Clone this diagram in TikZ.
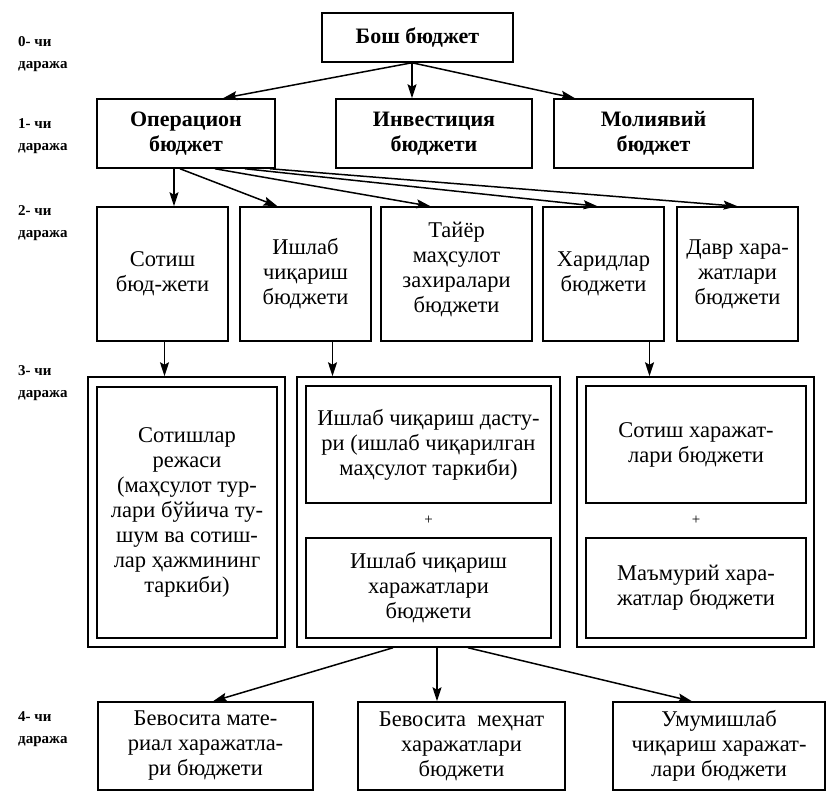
\documentclass[tikz,border=0pt]{standalone}
\usepackage{fontspec}
\setmainfont{Liberation Serif}
\usetikzlibrary{arrows.meta}
\usetikzlibrary{calc}

\begin{document}
\begin{tikzpicture}[x=1pt, y=-1pt,
        box/.style={draw, line width=1.5pt, align=center, inner sep=0pt,
                    font=\fontsize{22.5}{25}\selectfont},
        bbox/.style={box, font=\fontsize{22}{25}\selectfont\bfseries},
        lvl/.style={anchor=west, align=left, inner sep=0pt,
                    font=\fontsize{15}{22}\selectfont\bfseries},
        arr/.style={-{Stealth[length=14pt, width=9pt, inset=2.5pt]}, line width=1.5pt}]
            % Frame to ensure alignment:
            \useasboundingbox (0, 0) rectangle (829, 793);
            % Level labels
            \node[lvl] (lv0) at ( 18.0,  54.0) {0- чи\\даража};
            \node[lvl] (lv1) at ( 18.0, 136.0) {1- чи\\даража};
            \node[lvl] (lv2) at ( 18.0, 223.0) {2- чи\\даража};
            \node[lvl] (lv3) at ( 18.0, 383.0) {3- чи\\даража};
            \node[lvl] (lv4) at ( 18.0, 729.0) {4- чи\\даража};
            % Level 0
            \node[bbox, minimum width=191pt, minimum height=49pt]  (bosh)   at (417.5,  37.5) {Бош бюджет};
            % Level 1
            \node[bbox, minimum width=178pt, minimum height=69pt]  (oper)   at (186.0, 133.5) {Операцион\\бюджет};
            \node[bbox, minimum width=196pt, minimum height=69pt]  (invest) at (434.0, 133.5) {Инвестиция\\бюджети};
            \node[bbox, minimum width=199pt, minimum height=69pt]  (moliya) at (653.5, 133.5) {Молиявий\\бюджет};
            % Level 2
            \node[box,  minimum width=131pt, minimum height=134pt] (sotish) at (162.5, 274.0) {Сотиш\\бюд-жети};
            \node[box,  minimum width=131pt, minimum height=134pt] (ishlab) at (305.5, 274.0) {Ишлаб\\чиқариш\\бюджети};
            \node[box,  minimum width=151pt, minimum height=134pt] (tayyor) at (456.5, 274.0) {Тайёр\\маҳсулот\\захиралари\\бюджети\\[-12pt]};
            \node[box,  minimum width=121pt, minimum height=134pt] (xarid)  at (603.5, 274.0) {Харидлар\\бюджети};
            \node[box,  minimum width=121pt, minimum height=134pt] (davr)   at (737.5, 274.0) {Давр хара-\\жатлари\\бюджети};
            % Level 3, outer frames
            \node[box,  minimum width=197pt, minimum height=270pt] (planL)  at (186.5, 512.0) {};
            \node[box,  minimum width=263pt, minimum height=270pt] (planM)  at (428.5, 512.0) {};
            \node[box,  minimum width=237pt, minimum height=270pt] (planR)  at (695.5, 512.0) {};
            % Level 3, inner boxes
            \node[box,  minimum width=180pt, minimum height=251pt] (sales)  at (187.0, 512.5)
                 {Сотишлар\\режаси\\(маҳсулот тур-\\лари бўйича ту-\\шум ва сотиш-\\лар ҳажмининг\\таркиби)};
            \node[box,  minimum width=245pt, minimum height=117pt] (progM)  at (428.5, 444.5)
                 {Ишлаб чиқариш дасту-\\ри (ишлаб чиқарилган\\маҳсулот таркиби)};
            \node[box,  minimum width=245pt, minimum height=100pt] (costM)  at (428.5, 588.0)
                 {Ишлаб чиқариш\\харажатлари\\бюджети};
            \node[box,  minimum width=220pt, minimum height=117pt] (sellR)  at (696.0, 444.5)
                 {Сотиш харажат-\\лари бюджети};
            \node[box,  minimum width=220pt, minimum height=100pt] (admR)   at (696.0, 588.0)
                 {Маъмурий хара-\\жатлар бюджети};
            \node[font=\fontsize{15}{15}\selectfont] (plusM) at ($(progM.south)!0.5!(costM.north)$) {+};
            \node[font=\fontsize{15}{15}\selectfont] (plusR) at ($(sellR.south)!0.5!(admR.north)$)  {+};
            % Level 4
            \node[box,  minimum width=215pt, minimum height=88pt]  (matl)   at (205.5, 746.0) {Бевосита мате-\\риал харажатла-\\ри бюджети};
            \node[box,  minimum width=207pt, minimum height=88pt]  (labr)   at (461.5, 746.0) {Бевосита\ \ меҳнат\\харажатлари\\бюджети};
            \node[box,  minimum width=212pt, minimum height=88pt]  (ovhd)   at (719.0, 746.0) {Умумишлаб\\чиқариш харажат-\\лари бюджети};
            % Arrows, level 0 -> 1
            \coordinate (b0) at ([xshift=-5.5pt]bosh.south);
            \draw[arr] (b0) -- ([xshift= 37.0pt]oper.north);
            \draw[arr] (b0) -- (b0 |- invest.north);
            \draw[arr] (b0) -- ([xshift=-78.5pt]moliya.north);
            % Arrows, level 1 -> 2
            \draw[arr] ([xshift=-12pt]oper.south) -- ([xshift=-12pt]oper.south |- sotish.north);
            \draw[arr] ([xshift= -6pt]oper.south) -- ([xshift=-28pt]ishlab.north);
            \draw[arr] ([xshift= 29pt]oper.south) -- ([xshift=-26pt]tayyor.north);
            \draw[arr] ([xshift= 59pt]oper.south) -- ([xshift= -6pt]xarid.north);
            \draw[arr] ([xshift= 84pt]oper.south) -- (davr.north);
            % Arrows, level 2 -> 3
            \draw[arr] ([xshift=  2pt]sotish.south) -- ([xshift=  2pt]sotish.south |- planL.north);
            \draw[arr] ([xshift= 27pt]ishlab.south) -- ([xshift= 27pt]ishlab.south |- planM.north);
            \draw[arr] ([xshift= 46pt]xarid.south)  -- ([xshift= 46pt]xarid.south  |- planR.north);
            % Arrows, level 3 -> 4
            \draw[arr] ([xshift=-35.5pt]planM.south) -- ([xshift=  7.5pt]matl.north);
            \draw[arr] ([xshift=  8.5pt]planM.south) -- ([xshift=  8.5pt]planM.south |- labr.north);
            \draw[arr] ([xshift= 39.5pt]planM.south) -- ([xshift=-27.0pt]ovhd.north);
        \end{tikzpicture}
\end{document}
